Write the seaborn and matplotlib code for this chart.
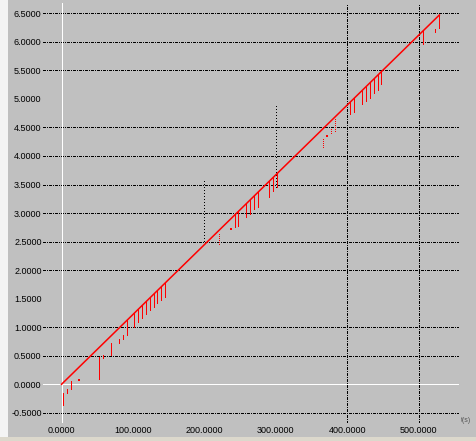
import matplotlib
matplotlib.use('Agg')
import matplotlib.pyplot as plt
import seaborn as sns
import pandas as pd
from matplotlib.patches import Rectangle

# ---- data ----
line_t = [0.0, 528.8]
line_v = [0.0, 6.47]

drop_t = [2.5, 8.1, 13.7, 52.9, 58.5, 69.7, 80.9, 86.5, 92.1, 101.9, 107.5, 113.1,
          118.7, 124.3, 129.9, 134.1, 139.7, 145.3,
          243.2, 247.4, 258.6, 264.2, 269.8, 275.4, 290.8, 296.4, 302.0,
          404.2, 409.8, 419.9, 425.5, 431.1, 436.7, 442.3, 447.6, 506.4, 523.2, 528.8]
drop_top = [-0.147, -0.082, 0.058, 0.473, 0.513, 0.729, 0.788, 0.863, 1.127, 1.247, 1.315, 1.384,
            1.452, 1.521, 1.589, 1.641, 1.709, 1.778,
            2.976, 3.027, 3.164, 3.232, 3.301, 3.370, 3.558, 3.627, 3.695,
            4.945, 5.014, 5.138, 5.206, 5.275, 5.343, 5.412, 5.476, 6.196, 6.222, 6.470]
drop_bottom = [-0.363, -0.147, -0.077, 0.088, 0.466, 0.513, 0.729, 0.793, 0.863, 1.009, 1.086, 1.156,
               1.226, 1.301, 1.359, 1.419, 1.476, 1.534,
               2.750, 2.778, 2.935, 2.977, 3.070, 3.110, 3.285, 3.391, 3.461,
               4.729, 4.774, 4.905, 4.967, 5.023, 5.096, 5.159, 5.259, 5.954, 6.175, 6.235]

dotted_t = [220.9, 366.4, 377.6, 383.2]
dotted_top = [2.672, 4.308, 4.511, 4.659]
dotted_bottom = [2.457, 4.161, 4.396, 4.441]

dot_t = [24.9, 237.6, 372.0]
dot_v = [0.075, 2.715, 4.348]

black_t = [200.0, 300.0]
black_top = [3.60, 4.90]
black_bottom = [2.45, 3.46]

y_grid = [-0.5, 0.5, 1.0, 2.0, 2.5, 3.0, 3.5, 4.0, 4.5, 5.5, 6.0, 6.5]
x_grid = [400.0, 500.0]
y_ticks = [-0.5, 0.0, 0.5, 1.0, 1.5, 2.0, 2.5, 3.0, 3.5, 4.0, 4.5, 5.0, 5.5, 6.0, 6.5]
x_ticks = [0.0, 100.0, 200.0, 300.0, 400.0, 500.0]
x_label = "t(s)"

# ---- figure ----
W, H = 476, 441
fig = plt.figure(figsize=(W / 100, H / 100), dpi=100, facecolor='#C0C0C0')
fig.patches.append(Rectangle((0, 0), 8 / W, 1, transform=fig.transFigure,
                             facecolor='#F4F4F4', edgecolor='none', zorder=0))
fig.patches.append(Rectangle((0, 0), 1, 4 / H, transform=fig.transFigure,
                             facecolor='#DCD8CC', edgecolor='none', zorder=0))

ax = fig.add_axes([43 / W, (H - 423) / H, 416 / W, 420 / H])
ax.set_facecolor('#C0C0C0')
for s in ax.spines.values():
    s.set_visible(False)
ax.set_xlim(-25.9, 556.3)
ax.set_ylim(-0.678, 6.68)

thin = 0.6
grid_style = dict(color='black', linewidth=thin, linestyle=(0, (2.8, 1.8, 0.9, 1.8)),
                  antialiased=False)
for g in y_grid:
    ax.axhline(g, zorder=1, **grid_style)
for g in x_grid:
    ax.axvline(g, zorder=1, **grid_style)
ax.axhline(0, color='white', linewidth=thin, zorder=1, antialiased=False)
ax.axvline(0, color='white', linewidth=thin, zorder=1, antialiased=False)

ax.vlines(black_t, black_bottom, black_top, color='black', linewidth=thin,
          linestyles=[(0, (1.0, 3.2))], zorder=2, antialiased=False)

ax.vlines(drop_t, drop_bottom, drop_top, color='#FF0000', linewidth=thin, zorder=3,
          antialiased=False)
ax.vlines(dotted_t, dotted_bottom, dotted_top, color='#FF0000', linewidth=thin,
          linestyles=[(0, (1.2, 2.0))], zorder=3, antialiased=False)
ax.scatter(dot_t, dot_v, marker='s', s=1.5, color='#FF0000', linewidths=0, zorder=3)

df = pd.DataFrame({'t': line_t, 'v': line_v})
sns.lineplot(data=df, x='t', y='v', ax=ax, color='#FF0000', linewidth=1.1, zorder=4)

ax.set_xlabel('')
ax.set_ylabel('')
ax.set_xticks(x_ticks)
ax.set_xticklabels([f"{v:.4f}" for v in x_ticks])
ax.set_yticks(y_ticks)
ax.set_yticklabels([f"{v:.4f}" for v in y_ticks])
ax.tick_params(axis='both', length=0, labelsize=6.5, colors='black')
ax.tick_params(axis='y', pad=1)
ax.tick_params(axis='x', pad=2.5)
for lab in ax.get_xticklabels() + ax.get_yticklabels():
    lab.set_fontfamily('Liberation Sans')

fig.text(466 / W, 1 - 421 / H, x_label, fontsize=5, color='#555555',
         ha='center', va='center', family='Liberation Sans')

fig.savefig('out.png', dpi=100, facecolor=fig.get_facecolor())
